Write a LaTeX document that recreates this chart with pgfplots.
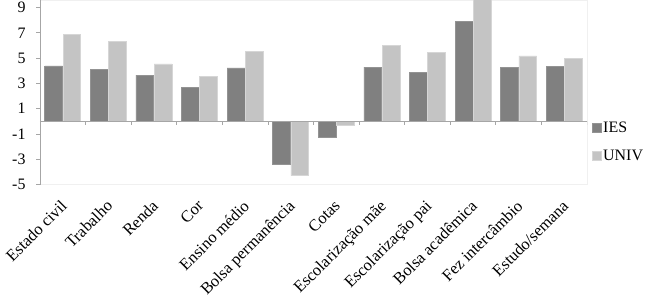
\documentclass[border=0pt]{standalone}
\usepackage{fontspec}
\setmainfont{Liberation Serif}
\newfontfamily\lserif{Liberation Serif}
\usepackage{pgfplots}
\pgfplotsset{compat=1.18}
\definecolor{ies}{HTML}{808080}
\definecolor{univ}{HTML}{C4C4C4}
\definecolor{axgray}{HTML}{A6A6A6}
\begin{document}
\begin{tikzpicture}
\begin{axis}[
  width=547bp, height=184.5bp, scale only axis,
  xmin=-0.5, xmax=11.5, ymin=-5, ymax=9.6,
  ytick={-5,-3,...,9}, yticklabels={-5,-3,-1,1,3,5,7,9},
  xtick={0,...,11},
  xticklabels={Estado civil, Trabalho, Renda, Cor, Ensino médio, Bolsa permanência, Cotas, Escolarização mãe, Escolarização pai, Bolsa acadêmica, Fez intercâmbio, Estudo/semana},
  x tick style={draw=none},
  y tick style={axgray, line width=0.8bp},
  tick align=outside, ytick pos=left, major tick length=4bp,
  axis line style={draw=gray!12},
  tick label style={font=\lserif\fontsize{16}{18}\selectfont, text=black},
  yticklabel style={xshift=-7bp},
  xticklabel style={xshift=-3bp, yshift=-7.5bp, rotate=45, anchor=north east, inner sep=2bp,
    font=\lserif\fontsize{16.5}{18}\selectfont},
  bar width=0.39,
  legend style={draw=none, at={(1.009,0.232)}, anchor=west, inner sep=0pt,
    font=\lserif\fontsize{16}{18}\selectfont, row sep=13.5bp,
    nodes={inner sep=1.5bp}},
  legend cell align=left,
  legend image code/.code={\fill[#1] (0bp,-4.5bp) rectangle (9bp,4.5bp);},
]
\addplot[ybar, bar shift=-0.2, fill=ies, draw=ies!85!white, line width=0.6bp] coordinates {
 (0,4.39) (1,4.09) (2,3.65) (3,2.70) (4,4.23) (5,-3.41) (6,-1.28) (7,4.28) (8,3.86) (9,7.93) (10,4.28) (11,4.35)};
\addlegendentry{IES}
\addplot[ybar, bar shift=0.2, fill=univ, draw=univ!70!white, line width=0.6bp] coordinates {
 (0,6.90) (1,6.35) (2,4.54) (3,3.57) (4,5.54) (5,-4.30) (6,-0.30) (7,5.98) (8,5.43) (9,9.80) (10,5.17) (11,4.96)};
\addlegendentry{UNIV}
\draw[axgray, line width=0.8bp] (axis cs:-0.5,0) -- (axis cs:11.5,0);
\draw[axgray, line width=0.8bp] (rel axis cs:0,0) -- (rel axis cs:0,1);
\pgfplotsinvokeforeach{0,...,11}{\draw[axgray, line width=0.8bp] (axis cs:#1+0.5,0) -- ++(0pt,-4bp);}
\coordinate (BL) at (rel axis cs:0,0);
\coordinate (TR) at (rel axis cs:1,1);
\end{axis}
\pgfresetboundingbox
\path[use as bounding box] ([xshift=-40bp,yshift=-111.5bp]BL) rectangle ([xshift=63bp]TR);
\end{tikzpicture}
\end{document}
